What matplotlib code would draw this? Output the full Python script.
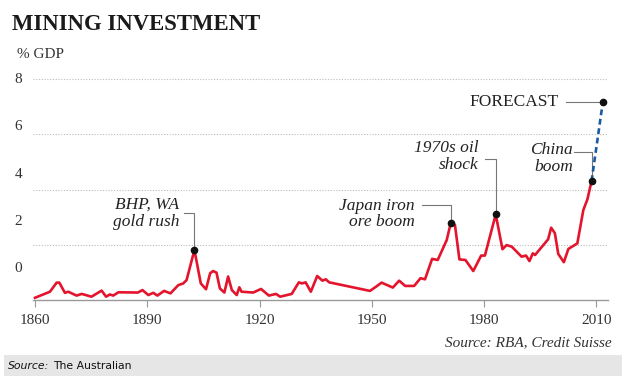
import matplotlib
matplotlib.use("Agg")
import matplotlib.pyplot as plt
from matplotlib.patches import Rectangle

# ---------------- data ----------------
years = [1860, 1864, 1865.8, 1866.5, 1868, 1868.9, 1871.1, 1872.5, 1875.1, 1877.8,
         1879, 1880, 1880.9, 1882.3, 1887.5, 1888.7, 1890.3, 1891.6, 1892.7, 1894.5,
         1896.2, 1898.3, 1899.6, 1900.5, 1902.6, 1904.3, 1905.7, 1906.8, 1907.6, 1908.5,
         1909.4, 1910.6, 1911.6, 1912.6, 1913.9, 1914.6, 1915.2, 1918.3, 1920.4, 1922.5,
         1924.4, 1925.5, 1928.6, 1930.5, 1931.3, 1932.3, 1933.7, 1935.4, 1936.8, 1937.7,
         1938.6, 1949.5, 1951.1, 1952.6, 1955.6, 1957.3, 1958.9, 1961.3, 1963.0, 1964.2,
         1966.1, 1967.6, 1970.0, 1971.1, 1972.2, 1973.4, 1975.0, 1977.1, 1979.2, 1980.2,
         1983.1, 1984.9, 1986.0, 1987.4, 1990.0, 1991.2, 1992.1, 1993.0, 1993.6, 1997.1,
         1997.9, 1998.9, 1999.8, 2001.3, 2002.5, 2004.9, 2006.5, 2007.6, 2008.7]
values = [0.08, 0.30, 0.63, 0.63, 0.26, 0.30, 0.16, 0.22, 0.12, 0.34,
          0.12, 0.20, 0.16, 0.28, 0.27, 0.36, 0.18, 0.26, 0.16, 0.33,
          0.24, 0.54, 0.60, 0.72, 1.81, 0.60, 0.39, 0.97, 1.05, 0.99,
          0.42, 0.27, 0.85, 0.36, 0.18, 0.46, 0.30, 0.27, 0.40, 0.16,
          0.22, 0.12, 0.22, 0.64, 0.60, 0.64, 0.30, 0.87, 0.70, 0.75,
          0.64, 0.33, 0.48, 0.63, 0.45, 0.70, 0.51, 0.51, 0.79, 0.75,
          1.49, 1.45, 2.17, 2.80, 2.72, 1.47, 1.45, 1.05, 1.61, 1.61,
          3.10, 1.84, 1.99, 1.93, 1.57, 1.61, 1.41, 1.69, 1.63, 2.20,
          2.62, 2.42, 1.67, 1.37, 1.85, 2.05, 3.26, 3.65, 4.31]

forecast_years = [2008.7, 2011.7]
forecast_values = [4.31, 7.16]

x_ticks = [1860, 1890, 1920, 1950, 1980, 2010]
y_tick_labels = ["0", "2", "4", "6", "8"]
grid_levels = [2, 4, 6, 8]

# annotations: (label, year of event, value at event)
events = [
    ("BHP, WA\ngold rush", 1902.6, 1.81),
    ("Japan iron\nore boom", 1971.1, 2.80),
    ("1970s oil\nshock", 1983.1, 3.10),
    ("China\nboom", 2008.7, 4.31),
]

# ---------------- layout ----------------
W, H = 627, 383
fig = plt.figure(figsize=(W / 100, H / 100), dpi=100)
fig.patch.set_facecolor("white")

def fx(x):
    return x / W

def fy(y):
    return 1 - y / H

ax_left_px, ax_right_px = 33.1, 608.4
ax_bottom_px, ax_top_px = 300, 65.4
ax = fig.add_axes([fx(ax_left_px), fy(ax_bottom_px),
                   (ax_right_px - ax_left_px) / W, (ax_bottom_px - ax_top_px) / H])
ax.set_xlim(1859.5, 2013.2)
ax.set_ylim(0, 8.5)
ax.patch.set_alpha(0)

RED = "#e4142c"
BLUE = "#1b5aa0"
GRAY = "#777777"
SERIF = "Liberation Serif"

for g in grid_levels:
    ax.axhline(g, color="#bbbbbb", lw=0.8, ls=(0, (1, 1.5)), zorder=0)

ax.plot(years, values, color=RED, lw=1.9, solid_joinstyle="round", zorder=3)
ax.plot(forecast_years, forecast_values, color=BLUE, lw=1.9, ls=(0, (2.2, 1.4)), zorder=3)

# spines / ticks
for s in ["top", "right", "left"]:
    ax.spines[s].set_visible(False)
ax.spines["bottom"].set_color("#999999")
ax.spines["bottom"].set_linewidth(1.0)
ax.set_xticks(x_ticks)
ax.set_xticklabels([str(t) for t in x_ticks], fontfamily=SERIF, fontsize=11, color="#333333")
ax.tick_params(axis="x", direction="out", length=5, width=0.8, color="#999999", pad=5)

# y labels sit at evenly spaced positions (as in the original graphic)
y_label_pos = [1.2, 2.9, 4.6, 6.34, 8.04]
ax.set_yticks(y_label_pos)
ax.set_yticklabels(y_tick_labels, fontfamily=SERIF, fontsize=11, color="#333333")
ax.tick_params(axis="y", length=0, pad=8)

# annotations
text_offsets = [  # (text right edge year, text center value, leader value, leader start year)
    (1898.5, 3.14, 3.14, 1899.9),
    (1961.5, 3.12, 3.44, 1963.3),
    (1978.4, 5.19, 5.11, 1980.2),
    (2003.7, 5.13, 5.37, 2003.9),
]
for (label, ex, ev), (tx, ty, ly, lx) in zip(events, text_offsets):
    ax.text(tx, ty, label, ha="right", va="center", multialignment="right",
            fontfamily=SERIF, fontstyle="italic", fontsize=12.5, color="#222222",
            linespacing=1.05)
    ax.plot([lx, ex, ex], [ly, ly, ev], color=GRAY, lw=0.8, zorder=2)
    ax.plot([ex], [ev], "o", color="#111111", ms=4.5, zorder=4)

# forecast label
ax.text(2000.0, forecast_values[-1], "FORECAST", ha="right", va="center",
        fontfamily=SERIF, fontsize=12.5, color="#222222")
ax.plot([2002.0, forecast_years[-1]], [forecast_values[-1]] * 2, color=GRAY, lw=0.8, zorder=2)
ax.plot([forecast_years[-1]], [forecast_values[-1]], "o", color="#111111", ms=4.5, zorder=4)

# title and labels
fig.text(fx(12), fy(24), "MINING INVESTMENT", ha="left", va="center",
         fontfamily=SERIF, fontweight="bold", fontsize=16.4, color="#1a1a1a")
fig.text(fx(17), fy(55), "% GDP", ha="left", va="center",
         fontfamily=SERIF, fontsize=11, color="#333333")
fig.text(fx(612), fy(343), "Source: RBA, Credit Suisse", ha="right", va="center",
         fontfamily=SERIF, fontstyle="italic", fontsize=11, color="#333333")

# footer bar
fig.patches.append(Rectangle((fx(4), fy(376)), (622 - 4) / W, (376 - 355) / H,
                             transform=fig.transFigure, facecolor="#e6e6e6",
                             edgecolor="none", zorder=0))
fig.text(fx(8), fy(366), "Source:", ha="left", va="center",
         fontfamily="DejaVu Sans", fontstyle="italic", fontsize=7.8, color="#111111")
fig.text(fx(53), fy(366), "The Australian", ha="left", va="center",
         fontfamily="DejaVu Sans", fontsize=7.8, color="#111111")

fig.savefig("out.png", dpi=100)
